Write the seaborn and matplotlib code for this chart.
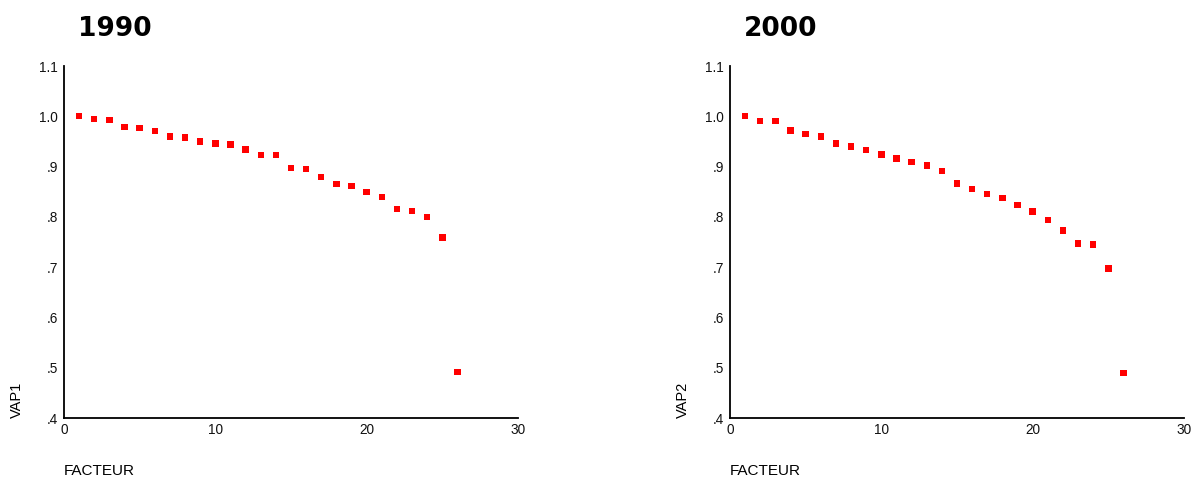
import matplotlib
matplotlib.use("Agg")
import matplotlib.pyplot as plt
import seaborn as sns
import pandas as pd

# Eigenvalue ratios per factor, two survey years
facteur = list(range(1, 27))
vap1 = [1.000, 0.995, 0.993, 0.979, 0.977, 0.971, 0.960, 0.958, 0.950, 0.946,
        0.944, 0.934, 0.923, 0.923, 0.897, 0.895, 0.879, 0.865, 0.861, 0.849,
        0.840, 0.816, 0.812, 0.800, 0.759, 0.492]
vap2 = [1.000, 0.990, 0.990, 0.972, 0.965, 0.960, 0.946, 0.940, 0.933, 0.924,
        0.916, 0.909, 0.902, 0.891, 0.866, 0.856, 0.845, 0.838, 0.824, 0.811,
        0.794, 0.773, 0.747, 0.745, 0.697, 0.490]

years = ["1990", "2000"]
ylabels = ["VAP1", "VAP2"]
xlabel = "FACTEUR"

xticks = [0, 10, 20, 30]
yticks = [0.4, 0.5, 0.6, 0.7, 0.8, 0.9, 1.0, 1.1]
yticklabels = [".4", ".5", ".6", ".7", ".8", ".9", "1.0", "1.1"]

sns.set_theme(style="white")
plt.rcParams["font.family"] = ["Liberation Sans", "DejaVu Sans"]

W, H = 1194, 478
fig = plt.figure(figsize=(W / 100, H / 100), dpi=100)

ax_left_px = [64, 730]
ax_w_px = 454
ax_bottom_px = 418
ax_top_px = 66

for i, (year, ylab, vals) in enumerate(zip(years, ylabels, [vap1, vap2])):
    ax = fig.add_axes([ax_left_px[i] / W, (H - ax_bottom_px) / H,
                       ax_w_px / W, (ax_bottom_px - ax_top_px) / H])
    df = pd.DataFrame({"FACTEUR": facteur, "VAP": vals})
    sns.scatterplot(data=df, x="FACTEUR", y="VAP", ax=ax, marker="s",
                    color="#ff0000", edgecolor="none", s=21, linewidth=0,
                    clip_on=False)
    ax.set_xlim(0, 30)
    ax.set_ylim(0.4, 1.1)
    ax.set_xticks(xticks)
    ax.set_xticklabels([str(t) for t in xticks])
    ax.set_yticks(yticks)
    ax.set_yticklabels(yticklabels)
    for side in ["top", "right"]:
        ax.spines[side].set_visible(False)
    for side in ["left", "bottom"]:
        ax.spines[side].set_color("black")
        ax.spines[side].set_linewidth(1.3)
    ax.tick_params(axis="both", which="major", direction="inout", length=3,
                   width=2.6, color="black", labelsize=9.8, labelcolor="#111111")
    ax.tick_params(axis="x", pad=2)
    ax.tick_params(axis="y", pad=3)

    ax.set_xlabel(xlabel, fontsize=11, color="black", loc="left")
    ax.xaxis.set_label_coords(0.0, -0.13)
    ax.xaxis.label.set_horizontalalignment("left")

    ax.set_ylabel(ylab, fontsize=10.5, color="black", loc="bottom")
    ax.yaxis.set_label_coords(-0.088, 0.0)

    ax.text(0.031, 1.104, year, transform=ax.transAxes, fontsize=19,
            fontweight="bold", family="DejaVu Sans", va="center", ha="left",
            color="black")

fig.savefig("out.png", dpi=100, facecolor="white")
